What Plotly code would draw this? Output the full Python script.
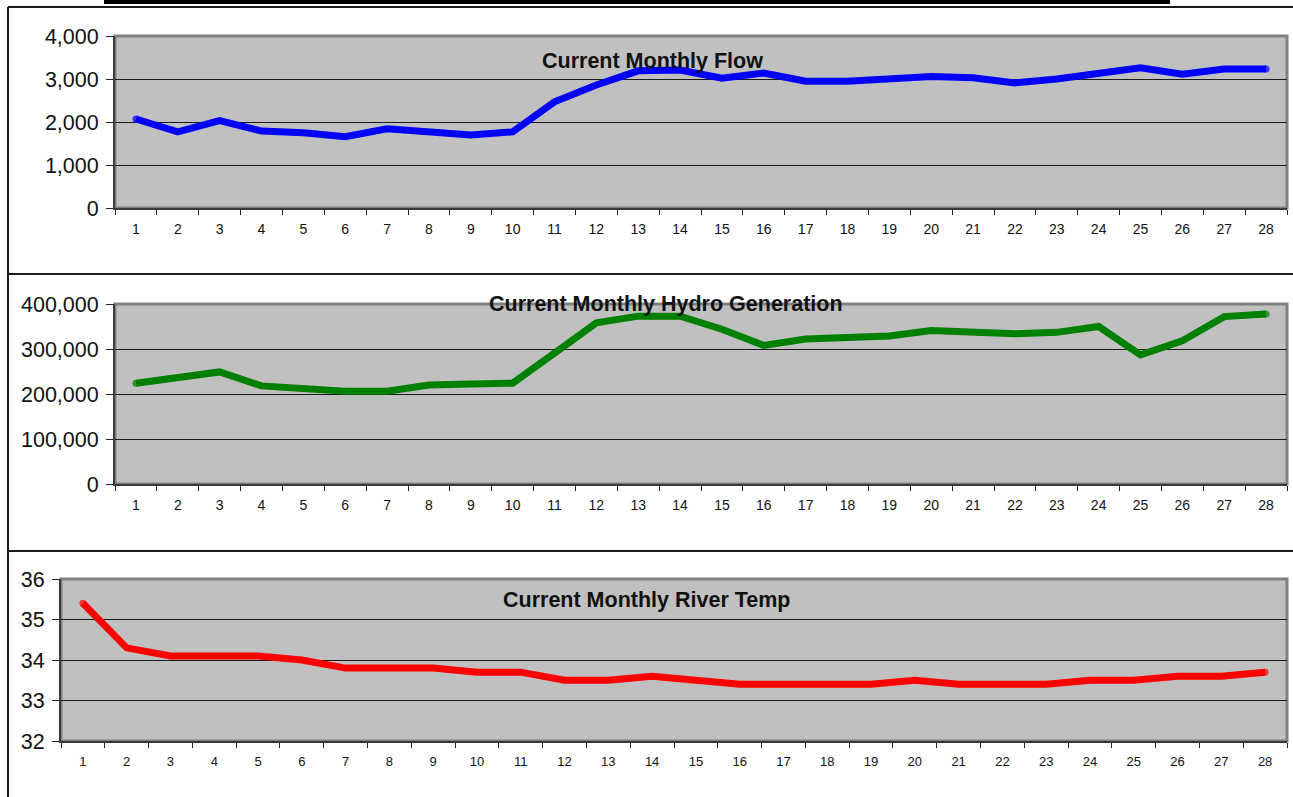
import plotly.graph_objects as go

W, H = 1293, 797

months = [str(m) for m in range(1, 29)]

flow = [2070, 1770, 2030, 1790, 1750, 1660, 1840, 1790, 1700, 1770,
        2470, 2860, 3190, 3210, 3020, 3140, 2950, 2950, 2990, 3060,
        3030, 2910, 3000, 3140, 3260, 3110, 3230, 3230]

hydro = [224000, 238000, 249000, 218000, 213000, 206000, 206000, 220000, 222000, 224000,
         291000, 358000, 373000, 373000, 344000, 308000, 322000, 324000, 329000, 341000,
         336000, 334000, 337000, 350000, 287000, 318000, 372000, 378000]

temp = [35.4, 34.3, 34.1, 34.1, 34.1, 34.0, 33.8, 33.8, 33.8, 33.7,
        33.7, 33.5, 33.5, 33.6, 33.5, 33.4, 33.4, 33.4, 33.4, 33.5,
        33.4, 33.4, 33.4, 33.5, 33.5, 33.6, 33.6, 33.7]

titles = ["Current Monthly Flow", "Current Monthly Hydro Generation", "Current Monthly River Temp"]
colors = ["#0000FF", "#008000", "#FF0000"]

FONT = "Arial, 'Liberation Sans', sans-serif"
LINE_W = 7


def px_x(v):
    return v / W


def px_y(v):
    return 1 - v / H


# plot areas in pixels: (left, right, top, bottom)
boxes = [(115, 1287, 36, 208), (115, 1287, 304, 484), (61, 1287, 579, 741)]
yranges = [[0, 4000], [0, 400000], [32, 36]]
ydticks = [1000, 100000, 1]
xtick_sizes = [14, 14, 13]
title_pos = [(653, 61), (666, 304), (647, 600)]

fig = go.Figure()
series = [flow, hydro, temp]

layout = dict(
    width=W, height=H,
    autosize=False,
    margin=dict(l=0, r=0, t=0, b=0, pad=0, autoexpand=False),
    paper_bgcolor="white",
    plot_bgcolor="#C0C0C0",
    showlegend=False,
    font=dict(family=FONT, color="black"),
)

shapes = []
annotations = []

for i, (vals, col) in enumerate(zip(series, colors)):
    n = "" if i == 0 else str(i + 1)
    l, r, t, b = boxes[i]
    # round caps at both ends of the line
    cap_sizes = [LINE_W] + [0] * (len(vals) - 2) + [LINE_W]
    fig.add_trace(go.Scatter(
        x=months, y=vals, mode="lines+markers",
        line=dict(color=col, width=LINE_W),
        marker=dict(color=col, size=cap_sizes, line=dict(width=0)),
        xaxis="x" + n, yaxis="y" + n,
        hoverinfo="skip",
    ))
    layout["xaxis" + n] = dict(
        domain=[px_x(l), px_x(r)],
        anchor="y" + n,
        type="category",
        range=[-0.5, len(months) - 0.5],
        tickson="boundaries",
        ticks="outside", ticklen=5, tickwidth=1, tickcolor="#222",
        showline=True, linecolor="#3a3a3a", linewidth=2,
        showgrid=False, zeroline=False,
        tickfont=dict(size=xtick_sizes[i], family=FONT, color="#111"),
        ticklabelstandoff=7,
        automargin=False,
        fixedrange=True,
    )
    layout["yaxis" + n] = dict(
        domain=[px_y(b), px_y(t)],
        anchor="x" + n,
        range=yranges[i],
        dtick=ydticks[i],
        tickformat=",",
        ticks="outside", ticklen=7, tickwidth=1, tickcolor="#222",
        showline=True, linecolor="#3a3a3a", linewidth=2,
        showgrid=True, gridcolor="#1a1a1a", gridwidth=1,
        zeroline=False,
        tickfont=dict(size=21.5, family=FONT, color="#111"),
        ticklabelstandoff=3,
        automargin=False,
        fixedrange=True,
    )
    # gray plot-area border
    shapes.append(dict(
        type="rect", xref="paper", yref="paper",
        x0=px_x(l), x1=px_x(r), y0=px_y(b), y1=px_y(t),
        line=dict(color="#808080", width=3),
        layer="below",
    ))
    tx, ty = title_pos[i]
    annotations.append(dict(
        text="<b>" + titles[i] + "</b>",
        xref="paper", yref="paper",
        x=px_x(tx), y=px_y(ty),
        xanchor="center", yanchor="middle",
        showarrow=False,
        font=dict(size=21.5, family=FONT, color="#111"),
    ))

# frame lines around and between the panels
frame = dict(color="#1a1a1a", width=2)
shapes += [
    dict(type="line", xref="paper", yref="paper",
         x0=px_x(8), x1=1, y0=px_y(7), y1=px_y(7), line=frame),
    dict(type="line", xref="paper", yref="paper",
         x0=px_x(8), x1=px_x(8), y0=px_y(7), y1=0, line=frame),
    dict(type="line", xref="paper", yref="paper",
         x0=px_x(8), x1=1, y0=px_y(274), y1=px_y(274), line=frame),
    dict(type="line", xref="paper", yref="paper",
         x0=px_x(8), x1=1, y0=px_y(551), y1=px_y(551), line=frame),
    dict(type="rect", xref="paper", yref="paper",
         x0=px_x(104), x1=px_x(1170), y0=px_y(4), y1=1,
         fillcolor="black", line=dict(width=0)),
]

layout["shapes"] = shapes
layout["annotations"] = annotations
fig.update_layout(**layout)

fig.write_html("out.html", config={"displayModeBar": False})
